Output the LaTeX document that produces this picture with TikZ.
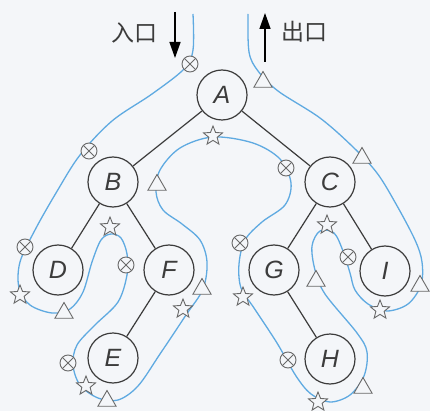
\documentclass[tikz,border=0pt]{standalone}
\usepackage{fontspec}
\setmainfont{Liberation Sans}
\newfontfamily\cjk{Noto Sans CJK SC}
\usetikzlibrary{shapes.geometric, arrows.meta, positioning}
\definecolor{cTour}{RGB}{95,170,225}
\definecolor{cInk}{RGB}{60,60,60}
\definecolor{cMark}{RGB}{105,105,105}
\definecolor{cBack}{RGB}{244,246,249}
\tikzset{
	vnode/.style   ={circle, draw=cInk, line width=1.2pt, minimum size=50pt, inner sep=0pt, fill=cBack, text=cInk, font=\fontsize{25}{30}\selectfont\itshape},
	tedge/.style   ={draw=cInk, line width=1.2pt},
	tour/.style    ={draw=cTour, line width=1.3pt},
	% visit markers: pre-order, in-order, post-order
	premark/.style ={circle, draw=cMark, line width=0.9pt, fill=cBack, minimum size=16pt, inner sep=0pt,
		path picture={\draw[cMark, line width=0.9pt] (path picture bounding box.north west) -- (path picture bounding box.south east) (path picture bounding box.north east) -- (path picture bounding box.south west);}},
	inmark/.style  ={star, star points=5, star point ratio=2.3, draw=cMark, line width=0.9pt, fill=cBack, minimum size=20pt, inner sep=0pt},
	postmark/.style={regular polygon, regular polygon sides=3, draw=cMark, line width=0.9pt, fill=cBack, minimum size=21pt, inner sep=0pt},
	ioarrow/.style ={-{Triangle[length=16pt, width=11pt]}, line width=1.4pt, black},
	iolabel/.style ={text=cInk, font=\cjk\fontsize{23}{27}\selectfont},
}
\begin{document}
\begin{tikzpicture}[x=1pt, y=-1pt]
	\fill[cBack] (0,0) rectangle (430,411);
	\draw[tour] plot[smooth, tension=0.55] coordinates {(193,14) (193,50) (184,69) (152,94) (112,121) (80,155) (56,193) (35,230) (20,262) (19,288) (30,305) (52,313) (70,309) (83,292) (92,262) (101,240) (111,234) (121,238) (127,254) (127,275) (118,302) (95,325) (77,345) (73,365) (80,385) (98,398) (118,400) (138,386) (160,354) (186,315) (203,289) (207,262) (200,240) (182,224) (163,210) (156,192) (160,170) (180,148) (213,137) (253,143) (280,159) (291,183) (285,205) (262,222) (245,240) (239,264) (241,288) (254,308) (277,343) (296,376) (311,394) (330,402) (350,395) (364,376) (367,352) (357,333) (325,294) (315,270) (312,246) (320,231) (334,233) (343,251) (350,273) (355,290) (368,304) (387,311) (408,304) (421,285) (422,262) (415,240) (396,204) (377,173) (353,147) (320,118) (278,91) (258,71) (249,52) (248,14)};
	\node[vnode] (A) at (222,95) {A};
	\node[vnode] (B) at (113,182) {B};
	\node[vnode] (C) at (330,182) {C};
	\node[vnode] (D) at (58,270) {D};
	\node[vnode] (F) at (169,270) {F};
	\node[vnode] (E) at (113,358) {E};
	\node[vnode] (G) at (274,270) {G};
	\node[vnode] (I) at (385,271) {I};
	\node[vnode] (H) at (330,359) {H};
	\draw[tedge] (A) -- (B); \draw[tedge] (A) -- (C); \draw[tedge] (B) -- (D); \draw[tedge] (B) -- (F);
	\draw[tedge] (F) -- (E); \draw[tedge] (C) -- (G); \draw[tedge] (C) -- (I); \draw[tedge] (G) -- (H);
	\node[premark] (preA) at (190,64) {}; \node[premark] (preB) at (89,151) {}; \node[premark] (preC) at (286,168) {};
	\node[premark] (preD) at (25,247) {}; \node[premark] (preF) at (126,265) {}; \node[premark] (preE) at (68,363) {};
	\node[premark] (preG) at (240,243) {}; \node[premark] (preH) at (288,360) {}; \node[premark] (preI) at (348,257) {};
	\node[inmark] (inA) at (213,136) {}; \node[inmark] (inB) at (110,227) {}; \node[inmark] (inC) at (327,225) {};
	\node[inmark] (inD) at (20,295) {}; \node[inmark] (inE) at (86,386) {}; \node[inmark] (inF) at (183,309) {};
	\node[inmark] (inG) at (243,297) {}; \node[inmark] (inH) at (318,402) {}; \node[inmark] (inI) at (380,310) {};
	\node[postmark] (postA) at (263,82) {}; \node[postmark] (postB) at (157,185) {}; \node[postmark] (postC) at (362,158) {};
	\node[postmark] (postD) at (64,313) {}; \node[postmark] (postE) at (107,401) {}; \node[postmark] (postF) at (202,289) {};
	\node[postmark] (postG) at (316,281) {}; \node[postmark] (postH) at (363,388) {}; \node[postmark] (postI) at (420,286) {};
	\coordinate (inTop) at (175,12); \coordinate (inTip) at (175,58);
	\coordinate (outBot) at (265,62); \coordinate (outTip) at (265,13);
	\draw[ioarrow] (inTop) -- (inTip); \draw[ioarrow] (outBot) -- (outTip);
	\node[iolabel] (inLbl) at (134,33) {入口};
	\node[iolabel] (outLbl) at (304,32) {出口};
\end{tikzpicture}
\end{document}
